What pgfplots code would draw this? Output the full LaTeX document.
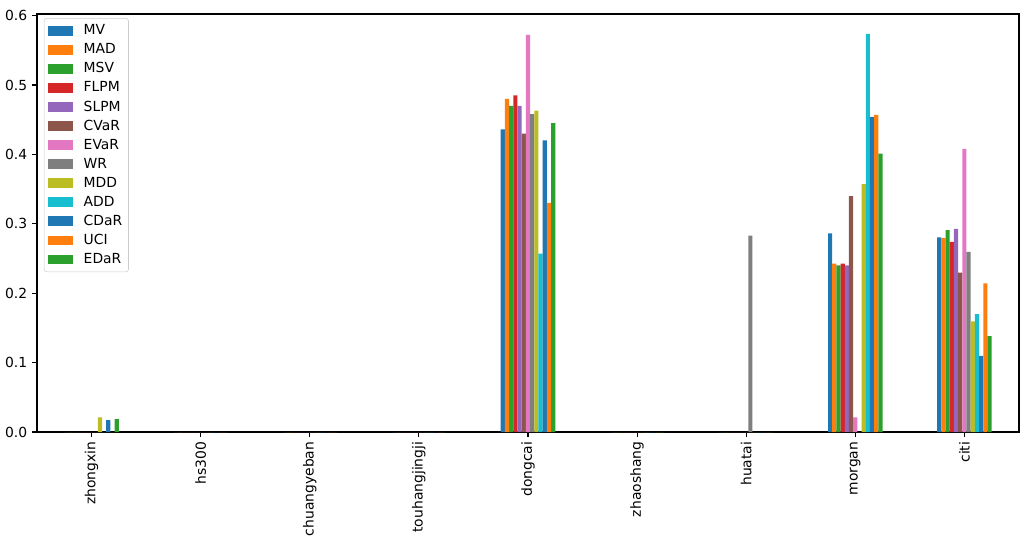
\documentclass[border=0pt]{standalone}
\usepackage{pgfplots}
\pgfplotsset{compat=1.18}
\usepackage{pgfplotstable}
\usepackage{fontspec}
\setmainfont{DejaVu Sans}
\definecolor{c0}{HTML}{1F77B4}
\definecolor{c1}{HTML}{FF7F0E}
\definecolor{c2}{HTML}{2CA02C}
\definecolor{c3}{HTML}{D62728}
\definecolor{c4}{HTML}{9467BD}
\definecolor{c5}{HTML}{8C564B}
\definecolor{c6}{HTML}{E377C2}
\definecolor{c7}{HTML}{7F7F7F}
\definecolor{c8}{HTML}{BCBD22}
\definecolor{c9}{HTML}{17BECF}
\pgfplotstableread{
x MV MAD MSV FLPM SLPM CVaR EVaR WR MDD ADD CDaR UCI EDaR
0 0 0 0 0 0 0 0 0 0.021 0 0.017 0 0.0187
1 0 0 0 0 0 0 0 0 0 0 0 0 0
2 0 0 0 0 0 0 0 0 0 0 0 0 0
3 0 0 0 0 0 0 0 0 0 0 0 0 0
4 0.436 0.480 0.470 0.485 0.470 0.430 0.572 0.458 0.463 0.257 0.420 0.330 0.445
5 0 0 0 0 0 0 0 0 0 0 0 0 0
6 0 0 0 0 0 0 0 0.283 0 0 0 0 0
7 0.286 0.2425 0.240 0.2425 0.240 0.340 0.021 0 0.357 0.5735 0.454 0.457 0.401
8 0.2805 0.2795 0.291 0.274 0.2925 0.2296 0.408 0.2594 0.1595 0.170 0.1095 0.214 0.138
}\data
\begin{document}
\begin{tikzpicture}
\path[use as bounding box] (-26.64bp,-74.88bp) rectangle (714.24bp,311.04bp);
\begin{axis}[
  at={(0,0)}, anchor=south west,
  scale only axis, width=707bp, height=301bp,
  xmin=-0.5, xmax=8.5, ymin=0, ymax=0.6023,
  xtick={0,...,8},
  xtick pos=left, ytick pos=left,
  xticklabels={zhongxin,hs300,chuangyeban,touhangjingji,dongcai,zhaoshang,huatai,morgan,citi},
  xticklabel style={rotate=90, anchor=east, font=\fontsize{10bp}{12bp}\selectfont},
  ytick={0,0.1,...,0.6},
  yticklabel style={font=\fontsize{10bp}{12bp}\selectfont, /pgf/number format/.cd, fixed, fixed zerofill, precision=1, assume math mode=true},
  tick align=outside, major tick length=3.5bp,
  tick style={line width=0.8bp, black},
  axis line style={line width=0.8bp},
  ybar=0pt, bar width=0.0384615,
  area legend,
  legend cell align=left,
  legend image code/.code={\fill[#1, sharp corners] (0bp,-3.5bp) rectangle (18bp,3.5bp); \path (24bp,0bp);},
  legend style={at={(0.007,0.99)}, anchor=north west, draw=black!20, rounded corners=2bp, fill=white, font=\fontsize{10bp}{12bp}\selectfont, row sep=0.9bp, inner sep=2.5bp},
]
\addplot[fill=c0, draw=none, bar shift=-0.230769] table[x=x,y=MV]{\data};
\addplot[fill=c1, draw=none, bar shift=-0.192308] table[x=x,y=MAD]{\data};
\addplot[fill=c2, draw=none, bar shift=-0.153846] table[x=x,y=MSV]{\data};
\addplot[fill=c3, draw=none, bar shift=-0.115385] table[x=x,y=FLPM]{\data};
\addplot[fill=c4, draw=none, bar shift=-0.076923] table[x=x,y=SLPM]{\data};
\addplot[fill=c5, draw=none, bar shift=-0.038462] table[x=x,y=CVaR]{\data};
\addplot[fill=c6, draw=none, bar shift=0] table[x=x,y=EVaR]{\data};
\addplot[fill=c7, draw=none, bar shift=0.038462] table[x=x,y=WR]{\data};
\addplot[fill=c8, draw=none, bar shift=0.076923] table[x=x,y=MDD]{\data};
\addplot[fill=c9, draw=none, bar shift=0.115385] table[x=x,y=ADD]{\data};
\addplot[fill=c0, draw=none, bar shift=0.153846] table[x=x,y=CDaR]{\data};
\addplot[fill=c1, draw=none, bar shift=0.192308] table[x=x,y=UCI]{\data};
\addplot[fill=c2, draw=none, bar shift=0.230769] table[x=x,y=EDaR]{\data};
\legend{MV,MAD,MSV,FLPM,SLPM,CVaR,EVaR,WR,MDD,ADD,CDaR,UCI,EDaR}
\end{axis}
\end{tikzpicture}
\end{document}
